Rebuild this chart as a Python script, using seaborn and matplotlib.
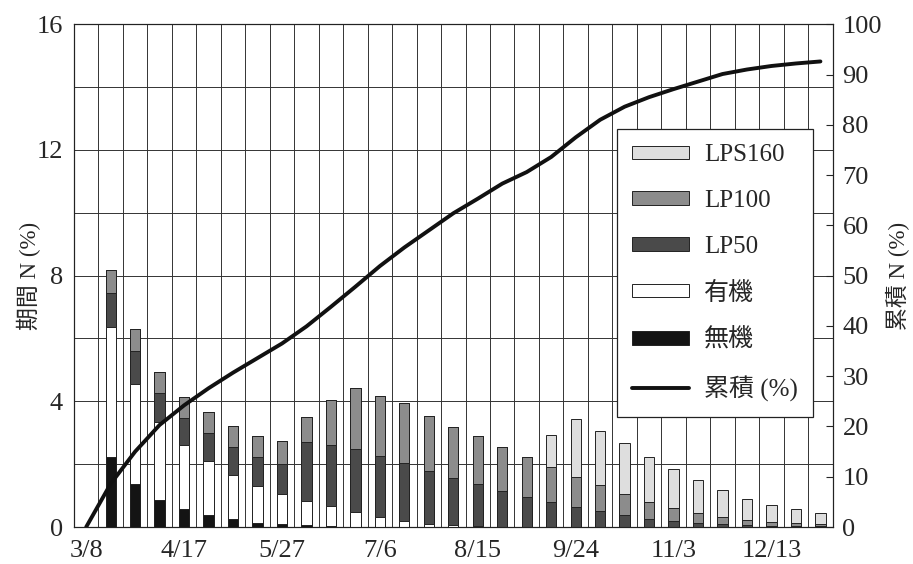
import numpy as np
import matplotlib
matplotlib.use("Agg")
import matplotlib.pyplot as plt
import seaborn as sns

# 10日ごとの期間 (3/8 = 0)
period = list(range(1, 31))
cells = list(range(0, 31))
tick_pos = [0, 4, 8, 12, 16, 20, 24, 28]
tick_labels = ['3/8', '4/17', '5/27', '7/6', '8/15', '9/24', '11/3', '12/13']

# 期間 N (%) 各資材
muki = [2.23, 1.38, 0.86, 0.56, 0.38, 0.24, 0.14, 0.08, 0.05, 0.02,
        0.01, 0.01, 0, 0, 0, 0, 0, 0, 0, 0,
        0, 0, 0, 0, 0, 0, 0, 0, 0, 0]
yuki = [4.14, 3.18, 2.47, 2.04, 1.72, 1.41, 1.17, 0.98, 0.78, 0.64,
        0.47, 0.32, 0.19, 0.10, 0.05, 0.02, 0, 0, 0, 0,
        0, 0, 0, 0, 0, 0, 0, 0, 0, 0]
lp50 = [1.08, 1.03, 0.92, 0.88, 0.90, 0.89, 0.92, 0.94, 1.87, 1.96,
        2.01, 1.94, 1.84, 1.67, 1.50, 1.35, 1.16, 0.97, 0.80, 0.64,
        0.51, 0.38, 0.27, 0.18, 0.13, 0.09, 0.06, 0.04, 0.03, 0.02]
lp100 = [0.74, 0.70, 0.67, 0.65, 0.65, 0.68, 0.67, 0.73, 0.79, 1.43,
         1.92, 1.91, 1.91, 1.75, 1.62, 1.52, 1.38, 1.26, 1.10, 0.96,
         0.82, 0.67, 0.54, 0.43, 0.31, 0.23, 0.16, 0.12, 0.09, 0.07]
lps160 = [0, 0, 0, 0, 0, 0, 0, 0, 0, 0,
          0, 0, 0, 0, 0, 0, 0, 0, 1.03, 1.83,
          1.74, 1.61, 1.42, 1.25, 1.07, 0.85, 0.68, 0.54, 0.44, 0.36]

# 累積 N (%)
ruiseki = [0, 8.6, 15.0, 20.3, 24.2, 27.6, 30.7, 33.6, 36.5, 39.9,
           43.8, 47.8, 51.9, 55.6, 59.0, 62.4, 65.3, 68.3, 70.6, 73.6,
           77.5, 81.0, 83.6, 85.5, 87.1, 88.6, 90.1, 91.0, 91.7, 92.2, 92.6]

sns.set_style("white")
plt.rcParams['font.family'] = ['Liberation Serif', 'Noto Sans CJK JP']
plt.rcParams['axes.unicode_minus'] = False

fig = plt.figure(figsize=(9.13, 5.64), dpi=100)
ax = fig.add_axes([0.081, 0.0656, 0.831, 0.8914])

layers = [muki, yuki, lp50, lp100, lps160]
names = ['無機', '有機', 'LP50', 'LP100', 'LPS160']
colors = ['#141414', '#ffffff', '#4a4a4a', '#8c8c8c', '#dedede']
tops = np.cumsum(np.array(layers), axis=0)

# 上から順に重ね描き (積み上げ)
for i in range(4, -1, -1):
    sns.barplot(x=period, y=tops[i], native_scale=True, width=0.42,
                color=colors[i], saturation=1, edgecolor='#222222',
                linewidth=0.7, errorbar=None, ax=ax, label=names[i], zorder=3)
if ax.get_legend() is not None:
    ax.get_legend().remove()

ax.set_xlim(-0.5, 30.5)
ax.set_ylim(0, 16)
ax.set_yticks([0, 4, 8, 12, 16])
ax.set_yticks(np.arange(0, 17, 2), minor=True)
ax.set_xticks(tick_pos)
ax.set_xticklabels(tick_labels)
ax.set_xticks(np.arange(0.5, 30.5, 1), minor=True)
ax.xaxis.grid(True, which='minor', color='#333333', linewidth=0.7)
ax.xaxis.grid(False, which='major')
ax.yaxis.grid(True, which='both', color='#333333', linewidth=0.7)
ax.set_axisbelow(True)
ax.tick_params(axis='both', which='both', length=0, labelsize=19)
ax.tick_params(axis='x', pad=9)
ax.tick_params(axis='y', pad=8)
ax.set_xlabel('')
ax.set_ylabel('期間 N (%)', fontsize=16.5)
ax.yaxis.set_label_coords(-0.044, 0.5)
for s in ax.spines.values():
    s.set_color('#222222')
    s.set_linewidth(0.8)

ax2 = ax.twinx()
sns.lineplot(x=cells, y=ruiseki, ax=ax2, color='#111111', linewidth=2.8,
             label='累積 (%)', legend=False, solid_capstyle='round')
ax2.set_ylim(0, 100)
ax2.set_yticks(np.arange(0, 101, 10))
ax2.tick_params(axis='y', direction='in', length=5, width=0.8,
                labelsize=19, pad=7)
ax2.set_ylabel('累積 N (%)', fontsize=16.5)
ax2.yaxis.set_label_coords(1.070, 0.5)
ax2.grid(False)
for s in ax2.spines.values():
    s.set_color('#222222')
    s.set_linewidth(0.8)

h1, l1 = ax.get_legend_handles_labels()
h2, l2 = ax2.get_legend_handles_labels()
hmap = dict(zip(l1, h1))
order = ['LPS160', 'LP100', 'LP50', '有機', '無機']
handles = [hmap[n] for n in order] + h2
labels = order + l2
leg = ax2.legend(handles, labels, loc='upper right', bbox_to_anchor=(0.974, 0.791),
                 borderaxespad=0, fontsize=18, frameon=True, fancybox=False,
                 framealpha=1, edgecolor='#222222', handlelength=2.3,
                 handleheight=0.45, labelspacing=0.95, handletextpad=0.6,
                 borderpad=0.6)
leg.get_frame().set_linewidth(0.9)

fig.savefig('out.png', dpi=100)
